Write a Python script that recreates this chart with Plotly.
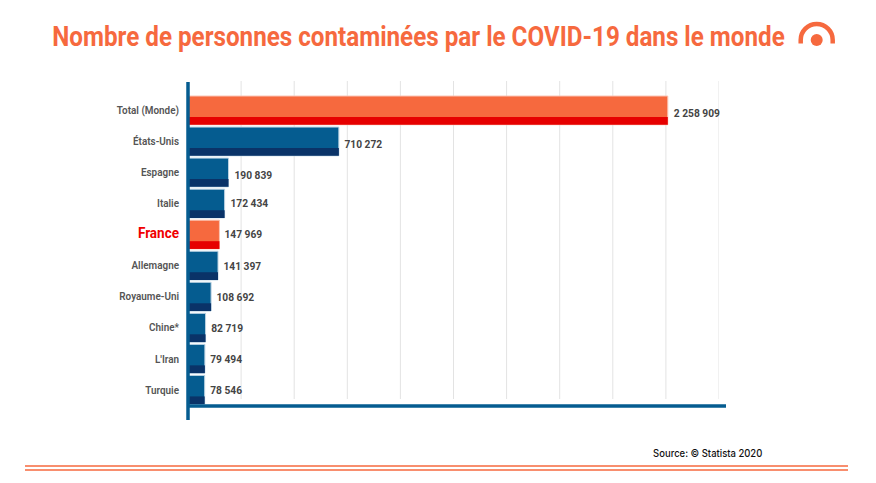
import plotly.graph_objects as go

# values
pays = ["Total (Monde)", "États-Unis", "Espagne", "Italie", "France",
        "Allemagne", "Royaume-Uni", "Chine*", "L'Iran", "Turquie"]
cas = [2258909, 710272, 190839, 172434, 147969, 141397, 108692, 82719, 79494, 78546]
etiquettes = ["2 258 909", "710 272", "190 839", "172 434", "147 969",
              "141 397", "108 692", "82 719", "79 494", "78 546"]
graduations = [250000 * i for i in range(1, 11)]

ORANGE = "#f6693e"
ROUGE = "#e60000"
BLEU = "#055c90"
MARINE = "#0a3368"

# plot area in pixels
W, H = 876, 483
L, R, T, B = 188, 719, 81, 406


def px(x):
    return (x - L) / (R - L)


def py(y):
    return (B - y) / (B - T)


en_avant = [p in ("Total (Monde)", "France") for p in pays]
couleurs = [ORANGE if a else BLEU for a in en_avant]
couleurs_bas = [ROUGE if a else MARINE for a in en_avant]
contours = ["#fbc4b2" if a else "#bcd3e3" for a in en_avant]
noms = ['<span style="color:#f00000;font-size:15px;font-weight:700">France</span>' if p == "France" else p
        for p in pays]

fig = go.Figure()
fig.add_trace(go.Bar(
    y=pays, x=cas, orientation="h", offset=-0.46, width=0.925,
    marker=dict(color=couleurs, line=dict(color=contours, width=1)),
    hoverinfo="skip", showlegend=False,
))
fig.add_trace(go.Bar(
    y=pays, x=cas, orientation="h", offset=0.216, width=0.25,
    marker=dict(color=couleurs_bas, line=dict(width=0)),
    hoverinfo="skip", showlegend=False,
))

# the first three labels sit a bit lower than the others in the original
for i, (p, v, t) in enumerate(zip(pays, cas, etiquettes)):
    fig.add_annotation(
        x=v, y=p, text=t, showarrow=False, xanchor="left", yanchor="middle",
        xshift=4, yshift=-3 if i < 3 else -0.5, borderpad=0, borderwidth=0,
        font=dict(family="Roboto", size=11, color="#444444", weight=700),
    )

shapes = []
# gridlines stop a little above the bottom axis
for g in graduations:
    shapes.append(dict(type="line", xref="x", yref="paper", x0=g, x1=g, y0=py(399), y1=1,
                       line=dict(color="#e3e3e3", width=1), layer="below"))
# axis bars
shapes.append(dict(type="line", xref="paper", yref="paper", x0=px(188), x1=px(188), y0=py(420), y1=py(82),
                   line=dict(color=BLEU, width=3.5)))
shapes.append(dict(type="line", xref="paper", yref="paper", x0=px(188), x1=px(726), y0=py(406), y1=py(406),
                   line=dict(color=BLEU, width=3.5)))
# footer rules
for y in (466, 470):
    shapes.append(dict(type="line", xref="paper", yref="paper", x0=px(25), x1=px(848), y0=py(y), y1=py(y),
                       line=dict(color=ORANGE, width=1.5)))
# logo next to the title
cx, cy, r, k = 816.7, 40, 16, 8.8
arc = (f"M {px(cx - r)} {py(43.5)} L {px(cx - r)} {py(cy)} "
       f"C {px(cx - r)} {py(cy - k)} {px(cx - k)} {py(cy - r)} {px(cx)} {py(cy - r)} "
       f"C {px(cx + k)} {py(cy - r)} {px(cx + r)} {py(cy - k)} {px(cx + r)} {py(cy)} "
       f"L {px(cx + r)} {py(43.5)}")
shapes.append(dict(type="path", xref="paper", yref="paper", path=arc, line=dict(color=ORANGE, width=4.5)))
shapes.append(dict(type="circle", xref="paper", yref="paper", x0=px(cx - 6), x1=px(cx + 6),
                   y0=py(cy + 6), y1=py(cy - 6), fillcolor=ORANGE, line=dict(width=0)))

fig.add_annotation(
    xref="paper", yref="paper", x=px(648), y=py(453), text="Source: © Statista 2020",
    showarrow=False, xanchor="left", yanchor="middle", borderpad=0,
    font=dict(family="Inter", size=10.2, color="#111111", weight=500),
)

fig.update_layout(
    width=W, height=H, autosize=False,
    margin=dict(l=L, r=W - R, t=T, b=H - B),
    paper_bgcolor="white", plot_bgcolor="white",
    barmode="overlay",
    title=dict(
        text="Nombre de personnes contaminées par le COVID-19 dans le monde",
        x=418.5 / W, xref="container", xanchor="center",
        y=1 - 36 / H, yref="container", yanchor="middle",
        font=dict(family="Roboto", size=27.5, color=ORANGE, weight=700),
    ),
    shapes=shapes,
)
fig.update_xaxes(range=[0, 2500000], showgrid=False, zeroline=False, showticklabels=False, showline=False)
fig.update_yaxes(
    type="category", categoryorder="array", categoryarray=pays,
    tickmode="array", tickvals=pays, ticktext=noms,
    range=[9.525, -0.944], showgrid=False, zeroline=False, showline=False,
    ticks="", ticklabelstandoff=8,
    tickfont=dict(family="Roboto", size=11, color="#555555", weight=600),
)

# no page margin, and squeeze the text since Roboto Condensed is not installed
script = """
document.body.style.margin = '0';
function serre(sel, f) {
  document.querySelectorAll(sel).forEach(function (t) {
    t.setAttribute('lengthAdjust', 'spacingAndGlyphs');
    t.setAttribute('textLength', t.getComputedTextLength() * f);
  });
}
var t = document.querySelector('.gtitle');
var s = 733 / t.getComputedTextLength();
t.setAttribute('transform', 'translate(418.5,0) scale(' + s + ',1) translate(-418.5,0)');
serre('.ytick text', 0.9);
serre('.annotation-text', 0.93);
"""
fig.write_html("out.html", config=dict(displayModeBar=False), post_script=script)
